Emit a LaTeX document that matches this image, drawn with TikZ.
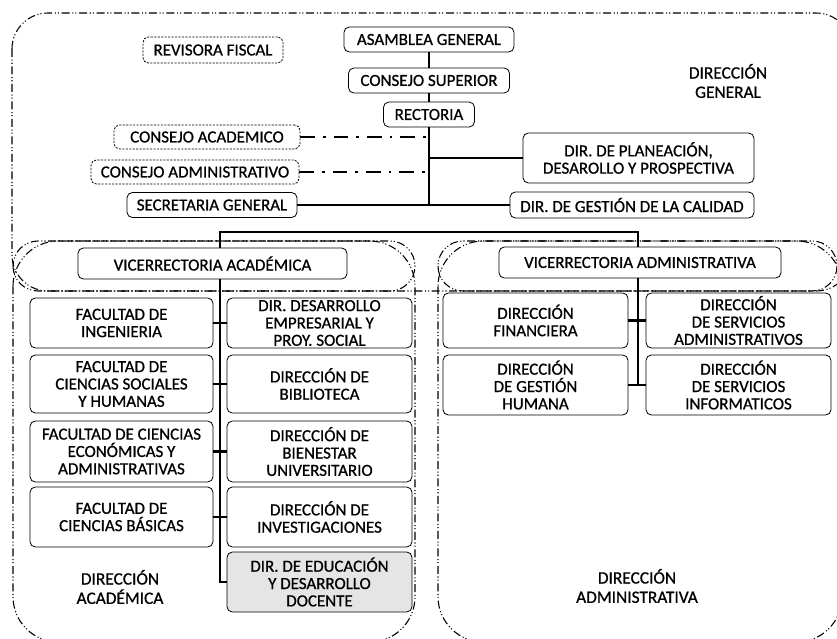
\documentclass[tikz,border=0pt]{standalone}
\usepackage{fontspec}
\setmainfont{Carlito}[FakeBold=0.8]
\usetikzlibrary{calc}

\begin{document}
\begin{tikzpicture}[x=0.75pt,y=-0.75pt,
	caja/.style={draw,rounded corners=4pt,fill=white,align=center,inner sep=1pt,line width=0.6pt,font=\fontsize{12.7}{13}\selectfont},
	consejo/.style={caja,draw=black,dash pattern=on 1.6pt off 1pt,line width=0.6pt},
	enlace/.style={line width=1.6pt},
	puntos/.style={line width=1.6pt,dash pattern=on 11pt off 6pt on 2pt off 6pt},
	zona/.style={line width=0.8pt,dash pattern=on 6pt off 2pt on 0.8pt off 1.5pt on 0.8pt off 2pt},
	rotulo/.style={align=center,font=\fontsize{13}{14.5}\selectfont}]
	
	\useasboundingbox (0,0) rectangle (837,638);
	\clip (0,0) rectangle (837,638);
	
	\draw[zona,rounded corners=27pt] (12,13) rectangle (852,291);
	\draw[zona,rounded corners=34pt] (13,241) rectangle (415,642);
	\draw[zona,rounded corners=34pt] (438,241) rectangle (842,642);
	\draw[zona,rounded corners=18.75pt] (13,241) rectangle (415,291);
	\draw[zona,rounded corners=18.75pt] (438,241) rectangle (837,291);
	
	\node[caja,minimum width=127.5pt,minimum height=18.75pt] (asamblea) at (429,39.5) {ASAMBLEA GENERAL};
	\node[caja,minimum width=120.75pt,minimum height=18.75pt] (superior) at (429,80.5) {CONSEJO SUPERIOR};
	\node[caja,minimum width=68.25pt,minimum height=18.75pt] (rectoria) at (429,114.5) {RECTORIA};
	\node[consejo,minimum width=105pt,minimum height=19.5pt] (revisora) at (213,50) {REVISORA FISCAL};
	\node[consejo,minimum width=139.5pt,minimum height=18pt] (academico) at (207,137) {CONSEJO ACADEMICO};
	\node[consejo,minimum width=156pt,minimum height=18pt] (administrativo) at (195,172) {CONSEJO ADMINISTRATIVO};
	\node[caja,minimum width=127.5pt,minimum height=18.75pt] (secretaria) at (212,205) {SECRETARIA GENERAL};
	\node[caja,minimum width=173.25pt,minimum height=37.5pt] (planeacion) at (638.5,158) {DIR. DE PLANEACIÓN,\\DESAROLLO Y PROSPECTIVA};
	\node[caja,minimum width=183pt,minimum height=19.5pt] (calidad) at (632,205) {DIR. DE GESTIÓN DE LA CALIDAD};
	\node[rotulo] (general) at (728,81) {DIRECCIÓN\\GENERAL};
	
	\draw[enlace] (asamblea) -- (superior);
	\draw[enlace] (superior) -- (rectoria);
	\draw[enlace] (rectoria.south) -- (rectoria.south |- secretaria.east);
	\draw[enlace] (secretaria) -- (calidad);
	\draw[enlace] (rectoria.south |- planeacion.west) -- (planeacion);
	\draw[puntos] (academico) -- (academico -| rectoria.south);
	\draw[puntos] (administrativo) -- (administrativo -| rectoria.south);
	
	\node[caja,minimum width=201.75pt,minimum height=23.25pt] (viceacad) at (212.5,263.5) {VICERRECTORIA ACADÉMICA};
	\node[caja,minimum width=211.5pt,minimum height=23.25pt] (viceadmin) at (640,262.5) {VICERRECTORIA ADMINISTRATIVA};
	\coordinate (ramaA) at (220,232);
	\coordinate (ramaB) at (638,232);
	\draw[enlace] (ramaA |- viceacad.north) -- (ramaA) -- (ramaB) -- (ramaB |- viceadmin.north);
	
	\node[caja,minimum width=137.25pt,minimum height=37.5pt] (ingenieria) at (121.5,323) {FACULTAD DE\\INGENIERIA};
	\node[caja,minimum width=138.75pt,minimum height=37.5pt] (empresarial) at (319.5,323) {DIR. DESARROLLO\\EMPRESARIAL Y\\PROY. SOCIAL};
	\node[caja,minimum width=137.25pt,minimum height=43.5pt] (sociales) at (121.5,384) {FACULTAD DE\\CIENCIAS SOCIALES\\Y HUMANAS};
	\node[caja,minimum width=138.75pt,minimum height=43.5pt] (biblioteca) at (319.5,384) {DIRECCIÓN DE\\BIBLIOTECA};
	\node[caja,minimum width=137.25pt,minimum height=45.75pt] (economicas) at (121.5,451.5) {FACULTAD DE CIENCIAS\\ECONÓMICAS Y\\ADMINISTRATIVAS};
	\node[caja,minimum width=138.75pt,minimum height=45.75pt] (bienestar) at (319.5,451.5) {DIRECCIÓN DE\\BIENESTAR\\UNIVERSITARIO};
	\node[caja,minimum width=137.25pt,minimum height=45pt] (basicas) at (121.5,517) {FACULTAD DE\\CIENCIAS BÁSICAS};
	\node[caja,minimum width=138.75pt,minimum height=45pt] (investigaciones) at (319.5,517) {DIRECCIÓN DE\\INVESTIGACIONES};
	\node[caja,fill=black!10,minimum width=138.75pt,minimum height=45pt] (docente) at (319.5,582) {DIR. DE EDUCACIÓN\\Y DESARROLLO\\DOCENTE};
	\node[rotulo] (academica) at (120,587) {DIRECCIÓN\\ACADÉMICA};
	
	\foreach \a/\b in {ingenieria/empresarial,sociales/biblioteca,economicas/bienestar,basicas/investigaciones}
		\draw[enlace] (\a) -- (\b);
	\draw[enlace] (ramaA |- viceacad.south) -- (ramaA |- docente.west) -- (docente);
	
	\node[caja,minimum width=138.75pt,minimum height=41.25pt] (financiera) at (535.5,320.5) {DIRECCIÓN\\FINANCIERA};
	\node[caja,minimum width=138.75pt,minimum height=41.25pt] (servicios) at (738.5,320.5) {DIRECCIÓN\\DE SERVICIOS\\ADMINISTRATIVOS};
	\node[caja,minimum width=138.75pt,minimum height=45pt] (humana) at (535.5,385) {DIRECCIÓN\\DE GESTIÓN\\HUMANA};
	\node[caja,minimum width=138.75pt,minimum height=45pt] (informaticos) at (738.5,385) {DIRECCIÓN\\DE SERVICIOS\\INFORMATICOS};
	\node[rotulo] (administrativa) at (637,586) {DIRECCIÓN\\ADMINISTRATIVA};
	
	\draw[enlace] (financiera) -- (servicios);
	\draw[enlace] (humana) -- (informaticos);
	\draw[enlace] (ramaB |- viceadmin.south) -- (ramaB |- humana.east);
\end{tikzpicture}
\end{document}
